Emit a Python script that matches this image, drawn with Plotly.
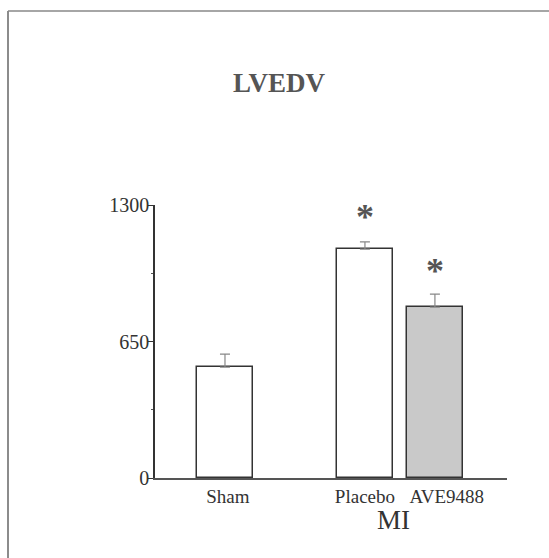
import plotly.graph_objects as go

# Data
categories = ["Sham", "Placebo", "AVE9488"]
positions = [0, 2, 3]
label_positions = [0.04, 2.0, 3.17]
means = [528, 1090, 814]
sem = [62, 34, 62]
fills = ["white", "white", "#c9c9c9"]
star_positions = [2, 3]
star_values = [1230, 972]
y_ticks = [0, 650, 1300]

SERIF = "Liberation Serif, Times New Roman, serif"

fig = go.Figure()
fig.add_trace(go.Bar(
    x=positions, y=means, width=0.79,
    marker=dict(color=fills, line=dict(color="#333333", width=1.5)),
    error_y=dict(type="data", array=sem, arrayminus=[0, 0, 0], symmetric=False,
                 color="#888888", thickness=1.2, width=5),
    showlegend=False,
))
fig.add_trace(go.Scatter(
    x=star_positions, y=star_values, mode="text", text=["<b>*</b>", "<b>*</b>"],
    textfont=dict(family=SERIF, size=36, color="#555555"),
    showlegend=False,
))

fig.update_layout(
    width=549, height=558,
    margin=dict(l=155, r=42, t=205, b=80),
    plot_bgcolor="white", paper_bgcolor="white",
    font=dict(family=SERIF, size=20, color="#333333"),
    bargap=0,
    xaxis=dict(range=[-1.0, 4.03], tickvals=label_positions, ticktext=categories,
               tickangle=0,
               showline=True, linecolor="#555555", linewidth=1.5,
               showgrid=False, zeroline=False, ticks="",
               tickfont=dict(family=SERIF, size=19, color="#333333")),
    yaxis=dict(range=[0, 1300], tickvals=y_ticks, showline=True,
               linecolor="#333333", linewidth=1.5, showgrid=False, zeroline=False,
               ticks="outside", ticklen=5, tickcolor="#333333", tickwidth=1,
               ticklabelstandoff=-5,
               minor=dict(tickvals=[325, 975], ticks="outside", ticklen=2,
                          tickcolor="#555555"),
               tickfont=dict(family=SERIF, size=20, color="#333333")),
    annotations=[
        dict(text="<b>LVEDV</b>", xref="paper", yref="paper",
             x=(279 - 155) / 352, y=(478 - 83) / 273, showarrow=False,
             xanchor="center", yanchor="middle",
             font=dict(family=SERIF, size=27, color="#555555")),
        dict(text="MI", xref="x", yref="paper", x=2.41, y=(478 - 520) / 273,
             showarrow=False, xanchor="center", yanchor="middle",
             font=dict(family=SERIF, size=27, color="#333333")),
    ],
    shapes=[
        dict(type="line", xref="paper", yref="paper",
             x0=(8 - 155) / 352, x1=(8 - 155) / 352,
             y0=(478 - 11) / 273, y1=(478 - 560) / 273,
             line=dict(color="#666666", width=1.5)),
        dict(type="line", xref="paper", yref="paper",
             x0=(8 - 155) / 352, x1=(551 - 155) / 352,
             y0=(478 - 11) / 273, y1=(478 - 11) / 273,
             line=dict(color="#888888", width=1.5)),
    ],
)

fig.write_html("out.html")
